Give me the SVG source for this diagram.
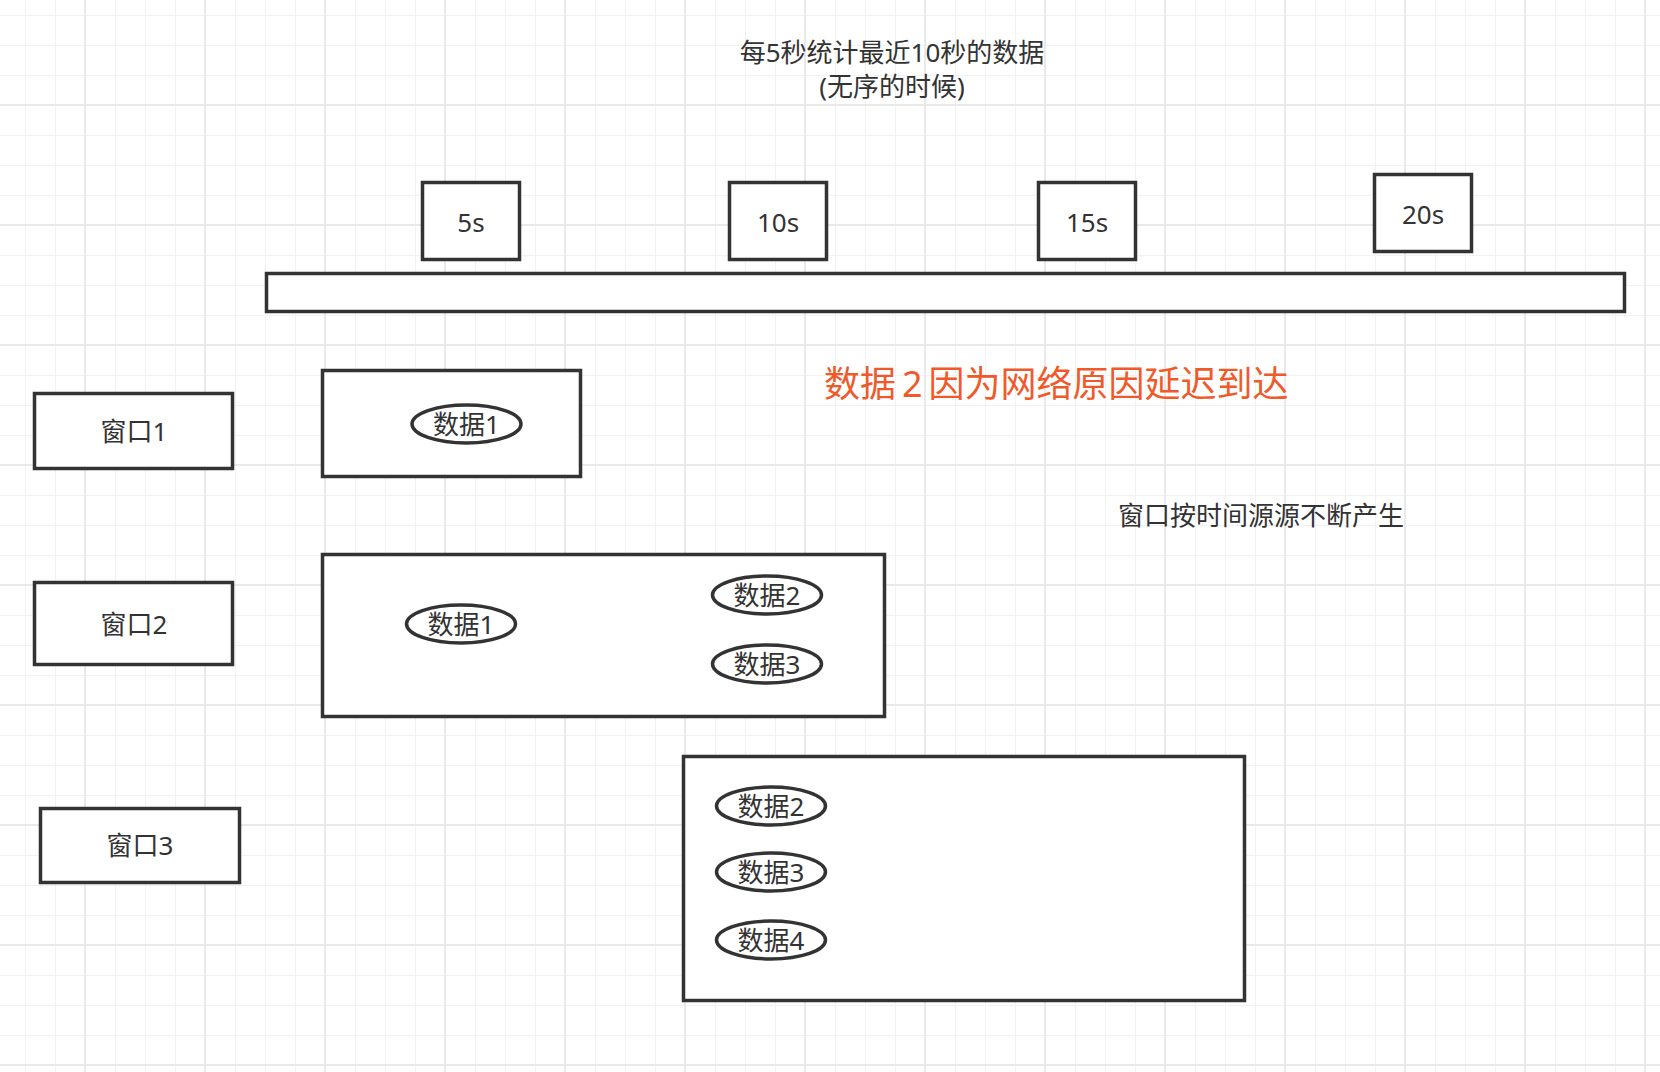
<svg xmlns="http://www.w3.org/2000/svg" width="1660" height="1072" viewBox="0 0 1660 1072">
  <style>
    .box { fill: #ffffff; stroke: #333333; stroke-width: 3.5; }
    .oval { fill: #ffffff; stroke: #333333; stroke-width: 3.5; }
    .lbl { font-family: "Noto Sans", "Noto Sans CJK SC", sans-serif; font-size: 26px; fill: #333333; text-anchor: middle; }
    .note { font-family: "Noto Sans", "Noto Sans CJK SC", sans-serif; font-size: 26px; fill: #333333; }
    .red { font-family: "Noto Sans", "Noto Sans CJK SC", sans-serif; font-size: 36px; fill: #f05a2a; }
    .minor { fill: #f2f2f2; }
    .major { fill: #e9e9e9; }
  </style>
  <defs>
    <pattern id="grid" x="25" y="15" width="120" height="120" patternUnits="userSpaceOnUse">
      <rect class="minor" x="0" y="0" width="1" height="120"/>
      <rect class="minor" x="30" y="0" width="1" height="120"/>
      <rect class="minor" x="90" y="0" width="1" height="120"/>
      <rect class="minor" x="0" y="0" width="120" height="1"/>
      <rect class="minor" x="0" y="30" width="120" height="1"/>
      <rect class="minor" x="0" y="60" width="120" height="1"/>
      <rect class="major" x="59" y="0" width="2" height="120"/>
      <rect class="major" x="0" y="89" width="120" height="2"/>
    </pattern>
  </defs>

  <rect x="0" y="0" width="1660" height="1072" fill="#ffffff"/>
  <rect x="0" y="0" width="1660" height="1072" fill="url(#grid)"/>

  <g id="title">
    <text class="lbl" x="892" y="62">每5秒统计最近10秒的数据</text>
    <text class="lbl" x="892" y="96">(无序的时候)</text>
  </g>

  <g id="t5s">
    <rect class="box" x="422.5" y="182.5" width="97" height="77"/>
    <text class="lbl" x="471" y="232">5s</text>
  </g>
  <g id="t10s">
    <rect class="box" x="729.5" y="182.5" width="97" height="77"/>
    <text class="lbl" x="778" y="232">10s</text>
  </g>
  <g id="t15s">
    <rect class="box" x="1038.5" y="182.5" width="97" height="77"/>
    <text class="lbl" x="1087" y="232">15s</text>
  </g>
  <g id="t20s">
    <rect class="box" x="1374.5" y="174.5" width="97" height="77"/>
    <text class="lbl" x="1423" y="224">20s</text>
  </g>

  <g id="timeline">
    <rect class="box" x="266.5" y="273.5" width="1358" height="38"/>
  </g>

  <g id="delay-note">
    <text class="red" x="824" y="397">数据<tspan dx="6">2</tspan><tspan dx="6">因为网络原因延迟到达</tspan></text>
  </g>

  <g id="window-note">
    <text class="note" x="1118" y="525">窗口按时间源源不断产生</text>
  </g>

  <g id="label-w1">
    <rect class="box" x="34.5" y="393.5" width="198" height="75"/>
    <text class="lbl" x="134" y="441">窗口1</text>
  </g>
  <g id="window1">
    <rect class="box" x="322.5" y="370.5" width="258" height="106"/>
  </g>
  <g id="w1-data1">
    <ellipse class="oval" cx="466.5" cy="424" rx="54.5" ry="19"/>
    <text class="lbl" x="466.5" y="434">数据1</text>
  </g>

  <g id="label-w2">
    <rect class="box" x="34.5" y="582.5" width="198" height="82"/>
    <text class="lbl" x="134" y="634">窗口2</text>
  </g>
  <g id="window2">
    <rect class="box" x="322.5" y="554.5" width="562" height="162"/>
  </g>
  <g id="w2-data1">
    <ellipse class="oval" cx="461" cy="624" rx="54.5" ry="19"/>
    <text class="lbl" x="461" y="634">数据1</text>
  </g>
  <g id="w2-data2">
    <ellipse class="oval" cx="767" cy="595" rx="54.5" ry="19"/>
    <text class="lbl" x="767" y="605">数据2</text>
  </g>
  <g id="w2-data3">
    <ellipse class="oval" cx="767" cy="664" rx="54.5" ry="19"/>
    <text class="lbl" x="767" y="674">数据3</text>
  </g>

  <g id="label-w3">
    <rect class="box" x="40.5" y="808.5" width="199" height="74"/>
    <text class="lbl" x="140" y="855">窗口3</text>
  </g>
  <g id="window3">
    <rect class="box" x="683.5" y="756.5" width="561" height="244"/>
  </g>
  <g id="w3-data2">
    <ellipse class="oval" cx="771" cy="806" rx="54.5" ry="19"/>
    <text class="lbl" x="771" y="816">数据2</text>
  </g>
  <g id="w3-data3">
    <ellipse class="oval" cx="771" cy="872" rx="54.5" ry="19"/>
    <text class="lbl" x="771" y="882">数据3</text>
  </g>
  <g id="w3-data4">
    <ellipse class="oval" cx="771" cy="940" rx="54.5" ry="19"/>
    <text class="lbl" x="771" y="950">数据4</text>
  </g>

  <g id="connectors"/>
</svg>
